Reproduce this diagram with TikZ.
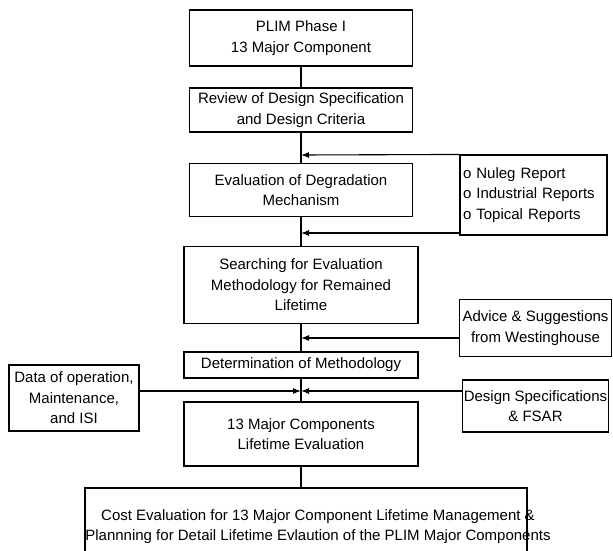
\documentclass[tikz,border=0pt]{standalone}
\usepackage{fontspec}
\setmainfont{Liberation Sans}
\usetikzlibrary{arrows.meta}
\begin{document}
\begin{tikzpicture}[x=1pt,y=-1pt,
		box/.style={draw,line width=1.1pt,align=center,inner sep=3pt,font=\fontsize{15}{20.5}\selectfont},
		feed/.style={-{Latex[length=8pt,width=6pt]},line width=1.1pt},
		label text/.style={align=center,inner sep=0pt,font=\fontsize{15}{20}\selectfont}]
		\useasboundingbox (0,0) rectangle (613,551);

		\node[box,minimum width=223pt,minimum height=56pt] (phase) at (301,38) {PLIM Phase I\\13 Major Component};
		\node[box,minimum width=223pt,minimum height=44pt] (review) at (301,110) {Review of Design Specification\\and Design Criteria};
		\node[box,minimum width=223pt,minimum height=53pt] (degradation) at (301,190) {Evaluation of Degradation\\Mechanism};
		\node[box,minimum width=234pt,minimum height=77pt] (search) at (301,285) {Searching for Evaluation\\Methodology for Remained\\Lifetime};
		\node[box,minimum width=234pt,minimum height=26pt] (method) at (301,365) {Determination of Methodology};
		\node[box,minimum width=234pt,minimum height=64pt] (lifeeval) at (301,434) {13 Major Components\\Lifetime Evaluation};
		\node[box,minimum width=442pt,minimum height=76pt] (cost) at (306,526) {};
		\node[label text] (costtext) at (318,527) {Cost Evaluation for 13 Major Component Lifetime Management \&\\Plannning for Detail Lifetime Evlaution of the PLIM Major Components};

		\node[box,align=left,text width=141pt,minimum height=80pt] (reports) at (533.5,195) {o Nuleg Report\\o Industrial Reports\\o Topical Reports};
		\node[box,minimum width=145pt,minimum height=57pt] (advice) at (535.5,328) {Advice \& Suggestions\\from Westinghouse};
		\node[box,minimum width=145pt,minimum height=52pt,inner xsep=1pt] (design) at (535.5,406) {Design Specifications\\\& FSAR};
		\node[box,minimum width=130pt,minimum height=66pt] (data) at (74,398) {Data of operation,\\Maintenance,\\and ISI};

		\coordinate (j1) at (301,155);
		\coordinate (j2) at (301,233);
		\coordinate (j3) at (301,338);
		\coordinate (j4) at (301,391);

		\draw[line width=1.1pt] (phase) -- (review);
		\draw[line width=1.1pt] (review) -- (degradation);
		\draw[line width=1.1pt] (degradation) -- (search);
		\draw[line width=1.1pt] (search) -- (method);
		\draw[line width=1.1pt] (method) -- (lifeeval);
		\draw[line width=1.1pt] (lifeeval) -- (lifeeval |- cost.north);

		\draw[feed] (reports.north west) -- (j1);
		\draw[feed] (reports.south west |- j2) -- (j2);
		\draw[feed] (advice.west |- j3) -- (j3);
		\draw[feed] (design.west |- j4) -- (j4);
		\draw[feed] (data.east |- j4) -- (j4);
	\end{tikzpicture}
\end{document}
